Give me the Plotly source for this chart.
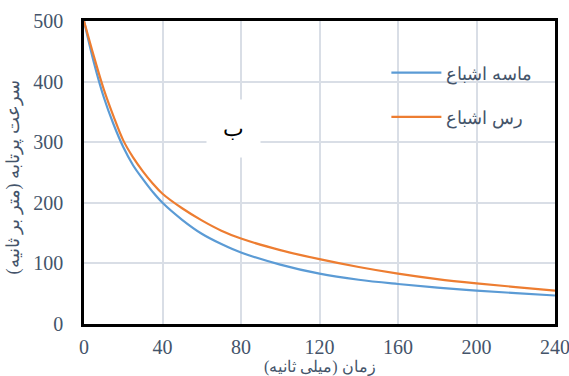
import plotly.graph_objects as go

time_ms = [0, 5, 10, 15, 20, 25, 30, 35, 40, 50, 60, 70, 80, 100, 120, 140, 160, 180, 200, 220, 240]
sand_sat = [500, 432, 375, 330, 292, 262, 239, 218, 200, 172, 149, 132, 118, 98, 83, 73, 66, 60, 55, 51, 47]
clay_sat = [500, 442, 388, 343, 303, 275, 252, 232, 215, 191, 171, 154, 141, 122, 107, 94, 83, 74, 67, 61, 55]
sand_name = "ماسه اشباع"
clay_name = "رس اشباع"
x_ticks = [0, 40, 80, 120, 160, 200, 240]
y_ticks = [0, 100, 200, 300, 400, 500]
x_title = "زمان (میلی ثانیه)"
y_title = "سرعت پرتابه (متر بر ثانیه)"
panel_label = "ب"

serif = "'Liberation Serif', 'DejaVu Serif', serif"
tick_font = dict(family=serif, size=20, color="#44546A")
title_font = dict(family=serif, size=18, color="#44546A")

fig = go.Figure()
fig.add_trace(go.Scatter(x=time_ms, y=sand_sat, mode="lines", name=sand_name, legendgroup="a",
                         line=dict(color="#5B9BD5", width=2.2, shape="spline", smoothing=1)))
fig.add_trace(go.Scatter(x=time_ms, y=clay_sat, mode="lines", name=clay_name, legendgroup="b",
                         line=dict(color="#ED7D31", width=2.2, shape="spline", smoothing=1)))

fig.update_layout(
    width=569, height=376,
    margin=dict(l=84, r=14, t=21, b=52),
    paper_bgcolor="white", plot_bgcolor="white",
    font=dict(family=serif),
    showlegend=True,
    legend=dict(x=0.642, y=0.89, xanchor="left", yanchor="top", bgcolor="rgba(0,0,0,0)",
                font=dict(family=serif, size=18, color="#44546A"),
                traceorder="grouped", tracegroupgap=18, itemwidth=50),
    xaxis=dict(range=[0, 240], tickvals=x_ticks, showgrid=True, gridcolor="#D9DEE6", gridwidth=1.5,
               showline=True, linecolor="black", linewidth=2.5, mirror=True, zeroline=False,
               tickfont=tick_font, ticks="", ticklabelstandoff=3, automargin=False,
               ticklabeloverflow="allow"),
    yaxis=dict(range=[0, 500], tickvals=y_ticks, showgrid=True, gridcolor="#D9DEE6", gridwidth=1.5,
               showline=True, linecolor="black", linewidth=2.5, mirror=True, zeroline=False,
               tickfont=tick_font, ticks="", ticklabelstandoff=14, automargin=False,
               ticklabeloverflow="allow"),
)

fig.add_annotation(x=0.5, y=-0.141, xref="paper", yref="paper", text=x_title, showarrow=False,
                   xanchor="center", yanchor="middle", font=dict(family=serif, size=16, color="#44546A"))
fig.add_annotation(x=-0.15, y=0.485, xref="paper", yref="paper", text=y_title, showarrow=False,
                   textangle=-90, xanchor="center", yanchor="middle", font=title_font)
fig.add_annotation(x=76, y=323, xref="x", yref="y", text=panel_label, showarrow=False,
                   font=dict(family=serif, size=22, color="black"),
                   bgcolor="white", borderpad=16)

fig.write_html("out.html")
